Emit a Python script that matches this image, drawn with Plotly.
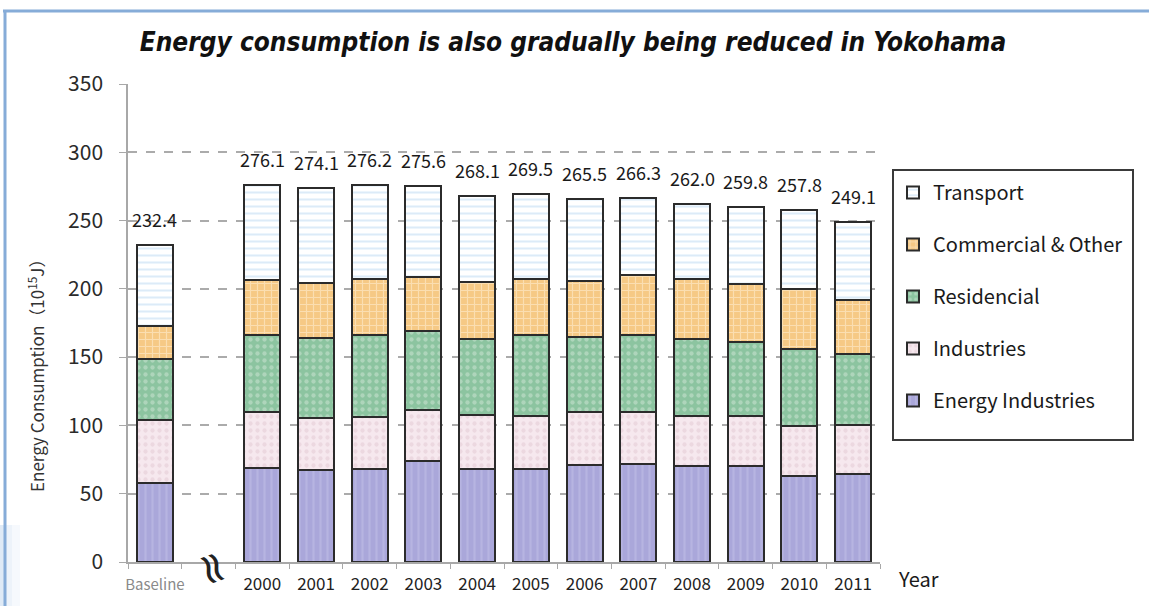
import plotly.graph_objects as go

# Energy consumption in Yokohama by sector (10^15 J)
categories = ["Baseline", "", "2000", "2001", "2002", "2003", "2004", "2005",
              "2006", "2007", "2008", "2009", "2010", "2011"]

totals = [232.4, None, 276.1, 274.1, 276.2, 275.6, 268.1, 269.5,
          265.5, 266.3, 262.0, 259.8, 257.8, 249.1]
energy_industries = [57.5, None, 68.8, 67.5, 68.3, 74.1, 68.3, 68.3,
                     70.7, 71.5, 70.5, 70.5, 62.7, 64.4]
industries = [46.5, None, 40.7, 38.0, 37.6, 37.4, 39.5, 38.3,
              39.5, 38.0, 36.6, 36.1, 37.1, 36.1]
residencial = [44.5, None, 57.0, 58.5, 60.0, 58.0, 55.6, 59.3,
               54.4, 56.8, 56.3, 54.4, 56.3, 51.9]
commercial = [24.0, None, 40.0, 40.0, 41.4, 39.3, 41.5, 41.4,
              40.8, 44.2, 43.9, 42.2, 44.1, 39.8]
# Transport fills the rest of each stack up to the labelled total
transport = [None if t is None else round(t - a - b - c - d, 1)
             for t, a, b, c, d in zip(totals, energy_industries, industries,
                                      residencial, commercial)]

x_pos = list(range(len(categories)))

# plot-area pixel box used for placing decorations
L, R, T, B = 128, 880, 84, 562
W, H = R - L, B - T


def px(x):
    return (x - L) / W


def py(y):
    return (B - y) / H


FONT = "Noto Sans CJK JP, Noto Sans, sans-serif"
OUTLINE = dict(color="#2b2b2b", width=2)

# name, values, fill, pattern colour, pattern shape, legend rank
series = [
    ("Energy Industries", energy_industries, "#aaa7da", "#c4c2e8", "|", 5),
    ("Industries", industries, "#f6e8ee", "#e2c8d2", ".", 4),
    ("Residencial", residencial, "#8cc4a0", "#cfe6d6", ".", 3),
    ("Commercial & Other", commercial, "#f6c985", "#fff3de", "+", 2),
    ("Transport", transport, "#ffffff", "#b9d8f2", "-", 1),
]

fig = go.Figure()
for name, vals, bg, fg, shape, rank in series:
    fig.add_trace(go.Bar(
        x=x_pos, y=vals, name=name, width=0.67,
        legendgroup=name, legendrank=rank,
        marker=dict(color=bg, line=OUTLINE,
                    pattern=dict(shape=shape, bgcolor=bg, fgcolor=fg,
                                 size=7, solidity=0.3)),
        hoverinfo="skip",
    ))

# total labels above each stack
for xi, t in zip(x_pos, totals):
    if t is None:
        continue
    fig.add_annotation(x=xi, y=t, text=f"{t:.1f}", showarrow=False,
                       xanchor="center", yanchor="bottom", yshift=11,
                       font=dict(family=FONT, size=18, color="#1a1a1a"))

ticktext = ["<span style='color:#8a8a8a;font-size:15px'>Baseline</span>"] + categories[1:]

fig.update_layout(
    width=1149, height=606,
    margin=dict(l=L, r=1149 - R, t=T, b=606 - B),
    paper_bgcolor="white", plot_bgcolor="white",
    barmode="stack",
    font=dict(family=FONT, color="#333"),
    title=dict(text="Energy consumption is also gradually being reduced in Yokohama",
               x=px(573), xref="paper", xanchor="center",
               y=1 - 42 / 606, yanchor="middle",
               font=dict(family="Liberation Sans Narrow, DejaVu Sans Condensed, sans-serif",
                         size=26, color="#111", weight="bold", style="italic")),
    legend=dict(
        x=px(893), y=py(173), xanchor="left", yanchor="top",
        borderwidth=0, bgcolor="rgba(0,0,0,0)",
        traceorder="grouped", tracegroupgap=23,
        font=dict(family=FONT, size=20, color="#1a1a1a"),
        itemclick=False,
    ),
    xaxis=dict(
        range=[-0.5, 13.5], tickmode="array", tickvals=x_pos, ticktext=ticktext,
        ticks="", showgrid=False, zeroline=False,
        showline=True, linecolor="#a8a8a8", linewidth=1.5,
        ticklabelstandoff=6,
        tickfont=dict(family=FONT, size=17, color="#222"),
        minor=dict(tickmode="linear", tick0=0.5, dtick=1, ticks="outside",
                   ticklen=5, tickcolor="#a8a8a8", showgrid=False),
    ),
    yaxis=dict(
        range=[0, 350], tickmode="linear", tick0=0, dtick=50,
        showgrid=False, zeroline=False,
        showline=True, linecolor="#a8a8a8", linewidth=1.5,
        ticks="outside", ticklen=7, tickcolor="#a8a8a8",
        ticklabelstandoff=12,
        tickfont=dict(family=FONT, size=21, color="#2a2a2a"),
        minor=dict(tickmode="array", tickvals=[50, 100, 150, 200, 250, 300],
                   showgrid=True, gridcolor="#ababab", gridwidth=1.5,
                   griddash="dash", ticks=""),
    ),
)

# legend frame
fig.add_shape(type="rect", xref="paper", yref="paper",
              x0=px(893), x1=px(1133), y0=py(440), y1=py(170),
              line=dict(color="#3a3a3a", width=2), fillcolor="rgba(0,0,0,0)")

# rotated axis title
fig.add_annotation(
    x=px(36), y=py(372), xref="paper", yref="paper", showarrow=False,
    xanchor="center", yanchor="middle",
    text="Energy Consumption（10<sup>15</sup>J）", textangle=-90,
    font=dict(family=FONT, size=17, color="#333"))

# "Year" axis caption
fig.add_annotation(
    x=px(918), y=py(578), xref="paper", yref="paper", showarrow=False,
    xanchor="center", yanchor="middle",
    text="Year", font=dict(family=FONT, size=20, color="#1a1a1a"))

# axis break mark between the baseline and the yearly series
fig.add_annotation(
    x=1, y=py(568), xref="x", yref="paper", showarrow=False, xshift=6,
    xanchor="center", yanchor="middle",
    text="≈", textangle=70,
    font=dict(family="DejaVu Sans", size=44, color="#222"))

# blue page frame on the top and left edges
frame = "#86acd8"
fig.add_shape(type="line", xref="paper", yref="paper",
              x0=px(3), x1=px(1149), y0=py(11), y1=py(11),
              line=dict(color=frame, width=3))
fig.add_shape(type="line", xref="paper", yref="paper",
              x0=px(5), x1=px(5), y0=py(10), y1=py(606),
              line=dict(color=frame, width=3))
for x0, x1, op in [(0, 4, 0.45), (6, 12, 0.25), (12, 20, 0.12)]:
    fig.add_shape(type="rect", xref="paper", yref="paper",
                  x0=px(x0), x1=px(x1), y0=py(606), y1=py(525),
                  fillcolor="#b9d0ec", opacity=op, line=dict(width=0), layer="below")

fig.write_html("out.html")
